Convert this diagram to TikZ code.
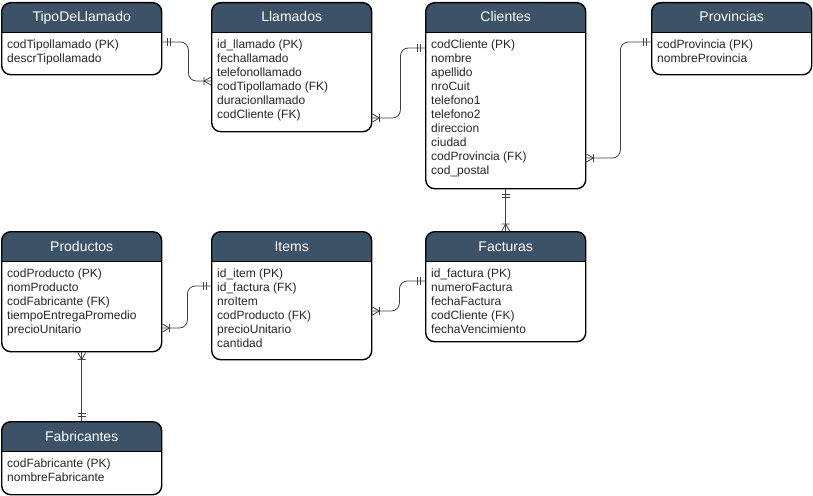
\documentclass[tikz,border=0pt]{standalone}
\usepackage{fontspec}
\setmainfont{Liberation Sans}
\usetikzlibrary{decorations.markings}
\definecolor{cabecera}{RGB}{60,82,103}
\tikzset{
  tabla/.style={draw=black,line width=1.4pt,fill=white,rounded corners=9pt,
    minimum width=160pt,inner sep=0pt,anchor=north west,
    path picture={\fill[cabecera,sharp corners] (path picture bounding box.north west) rectangle ([yshift=-30pt]path picture bounding box.north east);
      \draw[black,line width=1.4pt,sharp corners] ([yshift=-30pt]path picture bounding box.north west) -- ([yshift=-30pt]path picture bounding box.north east);}},
  titulo/.style={anchor=base,text=white,font=\fontsize{14}{16}\selectfont},
  campos/.style={anchor=north west,align=left,inner sep=0pt,text=black!85,font=\fontsize{12}{14}\selectfont},
  rel/.style={draw=black!75,line width=0.8pt,rounded corners=8pt},
  unoA/.style={postaction={decorate,decoration={markings,mark=at position 0 with {\draw[sharp corners] (5pt,-4pt)--(5pt,4pt) (8pt,-4pt)--(8pt,4pt);}}}},
  unoB/.style={postaction={decorate,decoration={markings,mark=at position 1 with {\draw[sharp corners] (-5pt,-4pt)--(-5pt,4pt) (-8pt,-4pt)--(-8pt,4pt);}}}},
  muchosA/.style={postaction={decorate,decoration={markings,mark=at position 0 with {\draw[sharp corners] (0pt,-4pt)--(7pt,0pt)--(0pt,4pt) (7pt,-4pt)--(7pt,4pt);}}}},
  muchosB/.style={postaction={decorate,decoration={markings,mark=at position 1 with {\draw[sharp corners] (0pt,-4pt)--(-7pt,0pt)--(0pt,4pt) (-7pt,-4pt)--(-7pt,4pt);}}}}
}
% nombre, esquina, alto, titulo, campos
\newcommand{\entidad}[5]{%
  \node[tabla,minimum height=#3] (#1) at (#2) {};
  \node[titulo] at ([yshift=-20pt]#1.north) {#4};
  \node[campos] at ([xshift=6pt,yshift=-38pt]#1.north west) {#5};
}
\begin{document}
\begin{tikzpicture}[x=1pt,y=-1pt]
\useasboundingbox (0,0) rectangle (813,495);
% fila de arriba
\entidad{tipo}{1,2}{72pt}{TipoDeLlamado}{codTipollamado (PK)\\descrTipollamado}
\entidad{llam}{211,2}{129pt}{Llamados}{id\_llamado (PK)\\fechallamado\\telefonollamado\\codTipollamado (FK)\\duracionllamado\\codCliente (FK)}
\entidad{cli}{425,2}{186pt}{Clientes}{codCliente (PK)\\nombre\\apellido\\nroCuit\\telefono1\\telefono2\\direccion\\ciudad\\codProvincia (FK)\\cod\_postal}
\entidad{prov}{651,2}{72pt}{Provincias}{codProvincia (PK)\\nombreProvincia}
% fila de abajo
\entidad{prod}{1,231}{120pt}{Productos}{codProducto (PK)\\nomProducto\\codFabricante (FK)\\tiempoEntregaPromedio\\precioUnitario}
\entidad{items}{211,231}{128pt}{Items}{id\_item (PK)\\id\_factura (FK)\\nroItem\\codProducto (FK)\\precioUnitario\\cantidad}
\entidad{fac}{425,231}{110pt}{Facturas}{id\_factura (PK)\\numeroFactura\\fechaFactura\\codCliente (FK)\\fechaVencimiento}
\entidad{fab}{1,421}{73pt}{Fabricantes}{codFabricante (PK)\\nombreFabricante}
% relaciones
\draw[rel,unoA,muchosB] ([yshift=-40pt]tipo.north east) -- ++(26,0) |- ([yshift=-79pt]llam.north west);
\draw[rel,muchosA,unoB] ([yshift=-116pt]llam.north east) -- ++(28,0) |- ([yshift=-46pt]cli.north west);
\draw[rel,muchosA,unoB] ([yshift=-156pt]cli.north east) -- ++(34,0) |- ([yshift=-40pt]prov.north west);
\draw[rel,unoA,muchosB] (cli.south) -- (fac.north);
\draw[rel,muchosA,unoB] ([yshift=-97pt]prod.north east) -- ++(25,0) |- ([yshift=-55pt]items.north west);
\draw[rel,muchosA,unoB] ([yshift=-80pt]items.north east) -- ++(27,0) |- ([yshift=-50pt]fac.north west);
\draw[rel,muchosA,unoB] (prod.south) -- (fab.north);
\end{tikzpicture}
\end{document}
